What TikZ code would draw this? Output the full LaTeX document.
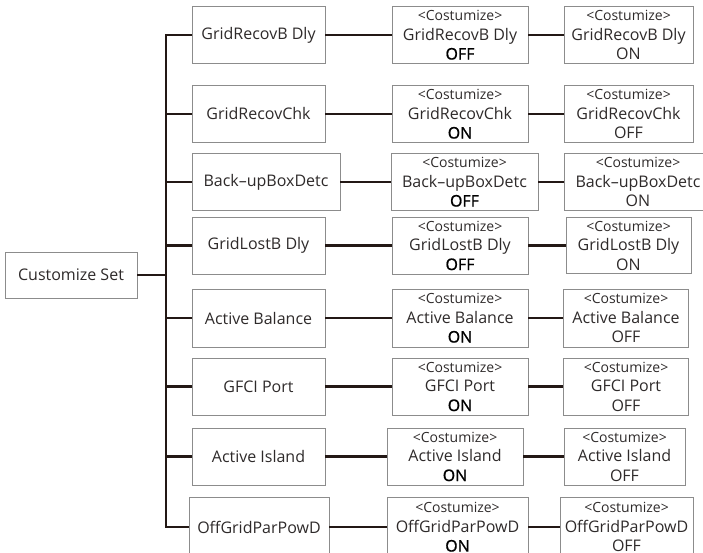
\documentclass[tikz,border=0pt]{standalone}
\usepackage{fontspec}
\setmainfont{Open Sans}
\newfontfamily\medio{Open Sans}[FakeBold=0.8]
\definecolor{linea}{HTML}{231815}
\definecolor{borde}{HTML}{8C8C8C}
\definecolor{texto}{HTML}{2E2A2A}
\newcommand{\etiq}{{\fontsize{14}{19.5}\selectfont <Costumize>}}
\newcommand{\estado}[1]{{\medio\color{black}#1}}

\begin{document}
\begin{tikzpicture}[x=1pt, y=-1pt,
    caja/.style={draw=borde, line width=0.9pt, text=texto, align=center, inner sep=0pt,
        minimum width=133pt, minimum height=57pt, font=\fontsize{16}{19.5}\selectfont},
    conector/.style={draw=linea, line width=2.2pt}]
    \useasboundingbox (0,0) rectangle (703,553);

    % Raíz
    \node[caja, minimum width=132pt, minimum height=46pt] (raiz) at (71,275) {Customize Set};
    \coordinate (tronco) at (166,275);

    % Primer nivel
    \node[caja] (a1) at (258.5,35) {GridRecovB Dly};
    \node[caja] (a2) at (258.5,114) {GridRecovChk};
    \node[caja, minimum width=148pt] (a3) at (266,182) {Back--upBoxDetc};
    \node[caja] (a4) at (258.5,245.5) {GridLostB Dly};
    \node[caja, minimum height=58pt] (a5) at (258.5,318) {Active Balance};
    \node[caja] (a6) at (258.5,386.5) {GFCI Port};
    \node[caja] (a7) at (258.5,456.5) {Active Island};
    \node[caja, minimum width=140pt, minimum height=60pt] (a8) at (259,527) {OffGridParPowD};

    % Segundo nivel
    \node[caja, minimum width=136pt] (b1) at (460,35) {\etiq\\GridRecovB Dly\\\estado{OFF}};
    \node[caja, minimum width=136pt] (b2) at (460,114) {\etiq\\GridRecovChk\\\estado{ON}};
    \node[caja, minimum width=147pt] (b3) at (464.5,182) {\etiq\\Back--upBoxDetc\\\estado{OFF}};
    \node[caja, minimum width=136pt] (b4) at (460,245.5) {\etiq\\GridLostB Dly\\\estado{OFF}};
    \node[caja, minimum width=136pt, minimum height=58pt] (b5) at (460,318) {\etiq\\Active Balance\\\estado{ON}};
    \node[caja, minimum width=136pt] (b6) at (460,386.5) {\etiq\\GFCI Port\\\estado{ON}};
    \node[caja, minimum width=136pt] (b7) at (455,456.5) {\etiq\\Active Island\\\estado{ON}};
    \node[caja, minimum width=141pt, minimum height=60pt] (b8) at (457.5,527) {\etiq\\OffGridParPowD\\\estado{ON}};

    % Tercer nivel
    \node[caja, minimum width=129pt] (c1) at (628.5,35) {\etiq\\GridRecovB Dly\\ON};
    \node[caja, minimum width=129pt] (c2) at (628.5,114) {\etiq\\GridRecovChk\\OFF};
    \node[caja, minimum width=148pt] (c3) at (638,182) {\etiq\\Back--upBoxDetc\\ON};
    \node[caja, minimum width=125pt, minimum height=56pt] (c4) at (628.5,245.5) {\etiq\\GridLostB Dly\\ON};
    \node[caja, minimum width=125pt, minimum height=58pt] (c5) at (626,318) {\etiq\\Active Balance\\OFF};
    \node[caja, minimum width=125pt] (c6) at (626,386.5) {\etiq\\GFCI Port\\OFF};
    \node[caja, minimum width=121pt] (c7) at (624.5,456.5) {\etiq\\Active Island\\OFF};
    \node[caja, minimum width=133pt, minimum height=60pt] (c8) at (626.5,527) {\etiq\\OffGridParPowD\\OFF};

    % Tronco y ramas
    \draw[conector] (raiz) -- (tronco);
    \draw[conector] (a1) -- (tronco |- a1) -- (tronco |- a8) -- (a8);
    \draw[conector] (tronco |- a2) -- (a2);
    \draw[conector] (tronco |- a3) -- (a3);
    \draw[conector] (tronco |- a4) -- (a4);
    \draw[conector] (tronco |- a5) -- (a5);
    \draw[conector] (tronco |- a6) -- (a6);
    \draw[conector] (tronco |- a7) -- (a7);

    % Conexiones entre niveles
    \draw[conector] (a1) -- (b1) (b1) -- (c1);
    \draw[conector] (a2) -- (b2) (b2) -- (c2);
    \draw[conector] (a3) -- (b3) (b3) -- (c3);
    \draw[conector] (a4) -- (b4) (b4) -- (c4);
    \draw[conector] (a5) -- (b5) (b5) -- (c5);
    \draw[conector] (a6) -- (b6) (b6) -- (c6);
    \draw[conector] (a7) -- (b7) (b7) -- (c7);
    \draw[conector] (a8) -- (b8) (b8) -- (c8);
\end{tikzpicture}
\end{document}
